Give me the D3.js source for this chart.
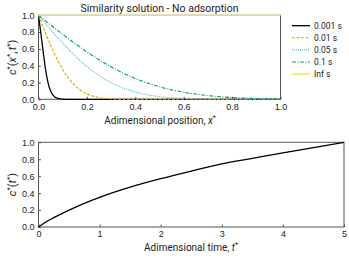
<!DOCTYPE html>
<meta charset="utf-8" />
<script src="https://cdn.jsdelivr.net/npm/d3@7"></script>
<html>
<head>
<style>
    body { margin: 0; background: #fff; }
    svg { font-family: Roboto, "Noto Sans", sans-serif; }
    .tick text { font-size: 9px; fill: #222; }
    .tick line { stroke: #555; }
    .domain { display: none; }
</style>
</head>
<body>
<script>
// --- data ---
const xPos = [0, 0.01, 0.02, 0.03, 0.04, 0.05, 0.06, 0.08, 0.1, 0.125, 0.15, 0.2, 0.25, 0.3, 0.35, 0.4, 0.5, 0.6, 0.7, 0.8, 0.9, 1.0];
const c0001 = [1, 0.78, 0.55, 0.34, 0.19, 0.10, 0.05, 0.01, 0.002, 0, 0, 0, 0, 0, 0, 0, 0, 0, 0, 0, 0, 0];
const c001 = [1, 0.926, 0.853, 0.782, 0.712, 0.644, 0.579, 0.459, 0.355, 0.249, 0.165, 0.065, 0.021, 0.006, 0.001, 0, 0, 0, 0, 0, 0, 0];
const c005 = [1, 0.966, 0.932, 0.898, 0.864, 0.83, 0.797, 0.732, 0.669, 0.592, 0.52, 0.391, 0.284, 0.199, 0.134, 0.087, 0.032, 0.011, 0.003, 0.0005, 0, 0];
const c01 = [1, 0.977, 0.954, 0.931, 0.908, 0.885, 0.863, 0.818, 0.773, 0.718, 0.665, 0.564, 0.471, 0.387, 0.312, 0.248, 0.149, 0.084, 0.044, 0.021, 0.0095, 0.004];
const cInf = [1, 1, 1, 1, 1, 1, 1, 1, 1, 1, 1, 1, 1, 1, 1, 1, 1, 1, 1, 1, 1, 1];
const legendLabels = ["0.001 s", "0.01 s", "0.05 s", "0.1 s", "Inf s"];

const tTime = [0, 0.1, 0.25, 0.5, 0.75, 1, 1.5, 2, 2.5, 3, 3.5, 4, 4.5, 5];
const cTime = [0, 0.05, 0.11, 0.2, 0.28, 0.35, 0.47, 0.57, 0.66, 0.745, 0.81, 0.875, 0.938, 1.0];

const xTicksTop = [0, 0.2, 0.4, 0.6, 0.8, 1.0];
const yTicks = [0, 0.2, 0.4, 0.6, 0.8, 1.0];
const tTicks = [0, 1, 2, 3, 4, 5];

const width = 349, height = 262;
const svg = d3.select("body").append("svg")
    .attr("width", width)
    .attr("height", height);

const series = [
    { vals: c0001, color: "#000000", dash: null, w: 1.3 },
    { vals: c001, color: "#e69f00", dash: "3,1.5", w: 1.1 },
    { vals: c005, color: "#56b4e9", dash: "1,1", w: 1.1 },
    { vals: c01, color: "#009e73", dash: "4,1.5,1,1.5", w: 1.1 },
    { vals: cInf, color: "#f0e442", dash: null, w: 1.3 }
];

// --- top panel ---
const x1 = d3.scaleLinear().domain([0, 1]).range([38.5, 280.5]);
const y1 = d3.scaleLinear().domain([0, 1]).range([99.3, 15.3]);

svg.append("g")
    .attr("transform", "translate(0,99.3)")
    .call(d3.axisBottom(x1).tickValues(xTicksTop).tickFormat(d3.format(".1f")).tickSizeInner(-2.5).tickSizeOuter(0).tickPadding(4));
svg.append("g")
    .attr("transform", "translate(38.5,0)")
    .call(d3.axisLeft(y1).tickValues(yTicks).tickFormat(d3.format(".1f")).tickSizeInner(-2.5).tickSizeOuter(0).tickPadding(4));

svg.append("rect")
    .attr("x", 38.5).attr("y", 15.3)
    .attr("width", 242).attr("height", 84)
    .attr("fill", "none").attr("stroke", "#555").attr("stroke-width", 1);

const line1 = d3.line()
    .x((d, i) => x1(xPos[i]))
    .y(d => y1(d))
    .curve(d3.curveMonotoneX);

series.forEach(s => {
    svg.append("path")
        .attr("d", line1(s.vals))
        .attr("fill", "none")
        .attr("stroke", s.color)
        .attr("stroke-width", s.w)
        .attr("stroke-dasharray", s.dash);
});

svg.append("text")
    .attr("x", 159.5).attr("y", 11.5)
    .attr("text-anchor", "middle")
    .attr("font-size", 10.5)
    .attr("fill", "#222")
    .text("Similarity solution - No adsorption");

// x label top
const xl1 = svg.append("text")
    .attr("x", 160).attr("y", 124)
    .attr("text-anchor", "middle")
    .attr("font-size", 10)
    .attr("fill", "#222");
xl1.append("tspan").text("Adimensional position, ");
xl1.append("tspan").attr("font-style", "italic").text("x");
xl1.append("tspan").attr("font-size", 7).attr("dy", -4).text("*");

// y label top
const yl1 = svg.append("text")
    .attr("transform", "translate(16,57.3) rotate(-90)")
    .attr("text-anchor", "middle")
    .attr("font-size", 11)
    .attr("fill", "#222");
yl1.append("tspan").attr("font-style", "italic").text("c");
yl1.append("tspan").attr("font-size", 7.5).attr("dy", -4).text("*");
yl1.append("tspan").attr("dy", 4).text("(");
yl1.append("tspan").attr("font-style", "italic").text("x");
yl1.append("tspan").attr("font-size", 7.5).attr("dy", -4).text("*");
yl1.append("tspan").attr("dy", 4).text(",");
yl1.append("tspan").attr("font-style", "italic").attr("dx", 1.5).text("t");
yl1.append("tspan").attr("font-size", 7.5).attr("dy", -4).text("*");
yl1.append("tspan").attr("dy", 4).text(")");

// legend
const legend = svg.append("g");
series.forEach((s, i) => {
    const yy = 25.7 + i * 12.1;
    legend.append("line")
        .attr("x1", 292).attr("x2", 310)
        .attr("y1", yy).attr("y2", yy)
        .attr("stroke", s.color)
        .attr("stroke-width", s.w)
        .attr("stroke-dasharray", s.dash);
    legend.append("text")
        .attr("x", 314).attr("y", yy + 3.2)
        .attr("font-size", 8.5)
        .attr("fill", "#222")
        .text(legendLabels[i]);
});

// --- bottom panel ---
const x2 = d3.scaleLinear().domain([0, 5]).range([38.5, 344]);
const y2 = d3.scaleLinear().domain([0, 1]).range([227, 142.3]);

svg.append("g")
    .attr("transform", "translate(0,227)")
    .call(d3.axisBottom(x2).tickValues(tTicks).tickFormat(d3.format("d")).tickSizeInner(-2.5).tickSizeOuter(0).tickPadding(4));
svg.append("g")
    .attr("transform", "translate(38.5,0)")
    .call(d3.axisLeft(y2).tickValues(yTicks).tickFormat(d3.format(".1f")).tickSizeInner(-2.5).tickSizeOuter(0).tickPadding(4));

svg.append("rect")
    .attr("x", 38.5).attr("y", 142.3)
    .attr("width", 305.5).attr("height", 84.7)
    .attr("fill", "none").attr("stroke", "#555").attr("stroke-width", 1);

const line2 = d3.line()
    .x((d, i) => x2(tTime[i]))
    .y(d => y2(d))
    .curve(d3.curveMonotoneX);

svg.append("path")
    .attr("d", line2(cTime))
    .attr("fill", "none")
    .attr("stroke", "#000")
    .attr("stroke-width", 1.3);

const xl2 = svg.append("text")
    .attr("x", 191).attr("y", 251)
    .attr("text-anchor", "middle")
    .attr("font-size", 10)
    .attr("fill", "#222");
xl2.append("tspan").text("Adimensional time, ");
xl2.append("tspan").attr("font-style", "italic").text("t");
xl2.append("tspan").attr("font-size", 7).attr("dy", -4).text("*");

const yl2 = svg.append("text")
    .attr("transform", "translate(16,184.6) rotate(-90)")
    .attr("text-anchor", "middle")
    .attr("font-size", 11)
    .attr("fill", "#222");
yl2.append("tspan").attr("font-style", "italic").text("c");
yl2.append("tspan").attr("font-size", 7.5).attr("dy", -4).text("*");
yl2.append("tspan").attr("dy", 4).text("(");
yl2.append("tspan").attr("font-style", "italic").text("t");
yl2.append("tspan").attr("font-size", 7.5).attr("dy", -4).text("*");
yl2.append("tspan").attr("dy", 4).text(")");
</script>
</body>
</html>
